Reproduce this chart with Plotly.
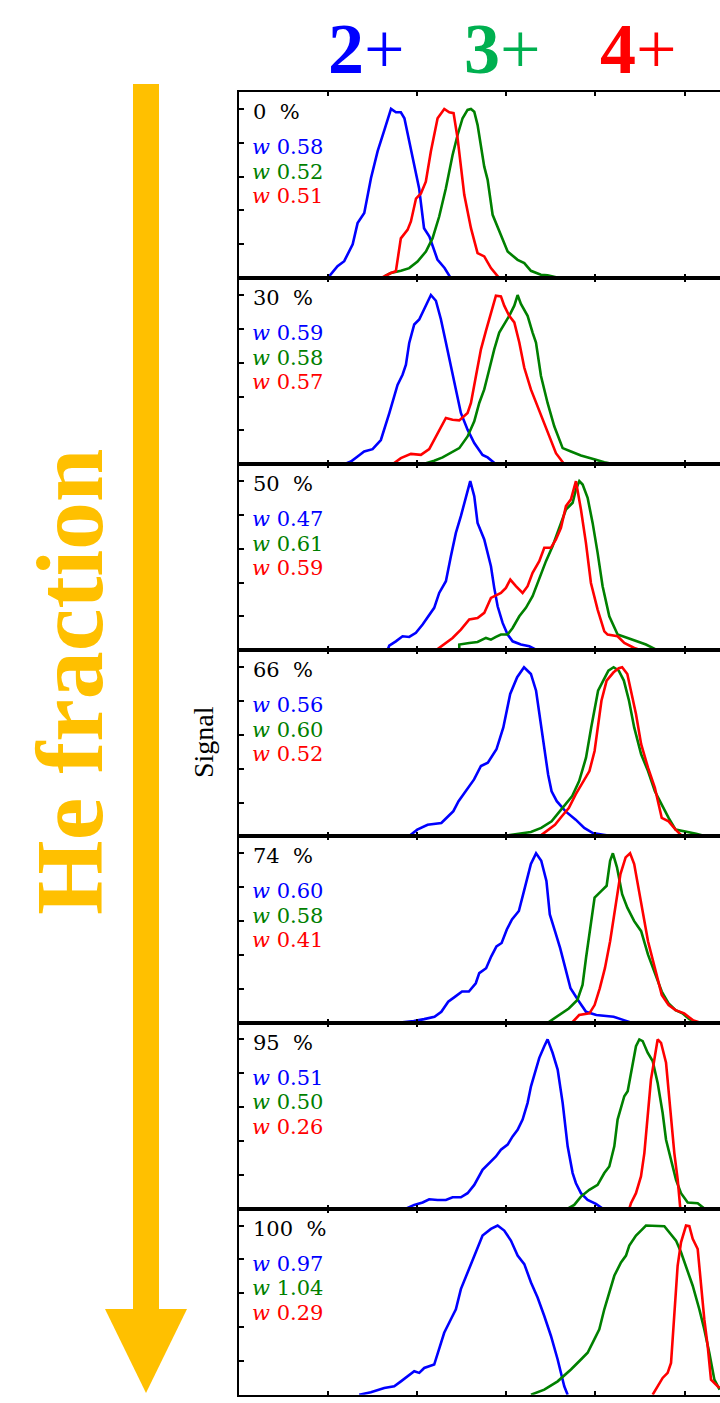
import plotly.graph_objects as go

W, H = 720, 1403

# ---------------- data ----------------
fractions = ["0 %", "30 %", "50 %", "66 %", "74 %", "95 %", "100 %"]
w_2p = [0.58, 0.59, 0.47, 0.56, 0.60, 0.51, 0.97]
w_3p = [0.52, 0.58, 0.61, 0.60, 0.58, 0.50, 1.04]
w_4p = [0.51, 0.57, 0.59, 0.52, 0.41, 0.26, 0.29]
x_ticks = [1, 2, 3, 4, 5]
y_ticks = [0.2, 0.4, 0.6, 0.8, 1.0]

# 0 %
he0_2p_x = [1.0, 1.11, 1.185, 1.28, 1.335, 1.41, 1.485, 1.56, 1.635, 1.71, 1.765, 1.82, 1.86, 1.915, 1.97, 2.025, 2.08, 2.14, 2.23, 2.31, 2.38]
he0_2p_y = [0, 0.07, 0.10, 0.20, 0.325, 0.385, 0.59, 0.75, 0.875, 1.0, 0.98, 0.98, 0.945, 0.81, 0.67, 0.53, 0.295, 0.245, 0.11, 0.06, 0.0]
he0_3p_x = [1.634, 1.708, 1.821, 1.914, 2.007, 2.101, 2.176, 2.25, 2.325, 2.4, 2.456, 2.512, 2.568, 2.606, 2.643, 2.68, 2.755, 2.793, 2.849, 2.942, 3.017, 3.129, 3.204, 3.278, 3.39, 3.465, 3.596]
he0_3p_y = [0.01, 0.03, 0.043, 0.059, 0.098, 0.157, 0.236, 0.364, 0.531, 0.728, 0.846, 0.945, 0.994, 1.0, 0.984, 0.906, 0.659, 0.581, 0.374, 0.256, 0.157, 0.108, 0.089, 0.043, 0.02, 0.016, 0.0]
he0_4p_x = [1.596, 1.708, 1.764, 1.82, 1.895, 1.933, 1.99, 2.045, 2.1, 2.157, 2.232, 2.307, 2.363, 2.411, 2.456, 2.531, 2.606, 2.68, 2.755, 2.83, 2.923]
he0_4p_y = [0, 0.03, 0.04, 0.235, 0.285, 0.335, 0.47, 0.5, 0.57, 0.75, 0.945, 1.0, 0.98, 0.975, 0.827, 0.492, 0.295, 0.148, 0.128, 0.059, 0.0]

# 30 %
he30_2p_x = [1.185, 1.26, 1.335, 1.409, 1.503, 1.596, 1.69, 1.746, 1.783, 1.839, 1.877, 1.914, 1.97, 2.026, 2.082, 2.157, 2.213, 2.269, 2.325, 2.381, 2.437, 2.493, 2.568, 2.643, 2.736, 2.793, 2.886]
he30_2p_y = [0, 0.016, 0.046, 0.075, 0.089, 0.143, 0.301, 0.4, 0.469, 0.529, 0.588, 0.717, 0.826, 0.855, 0.915, 1.0, 0.966, 0.857, 0.719, 0.590, 0.442, 0.303, 0.204, 0.125, 0.055, 0.04, 0.0]
he30_3p_x = [2.101, 2.194, 2.288, 2.381, 2.475, 2.568, 2.643, 2.699, 2.755, 2.811, 2.867, 2.923, 2.979, 3.035, 3.092, 3.129, 3.166, 3.241, 3.297, 3.335, 3.391, 3.465, 3.54, 3.634, 3.727, 3.839, 4.007, 4.101, 4.213]
he30_3p_y = [0.006, 0.02, 0.04, 0.065, 0.095, 0.164, 0.253, 0.362, 0.442, 0.560, 0.679, 0.778, 0.828, 0.877, 0.937, 1.0, 0.947, 0.877, 0.778, 0.719, 0.521, 0.362, 0.224, 0.095, 0.075, 0.051, 0.026, 0.012, 0.0]
he30_4p_x = [1.727, 1.82, 1.933, 2.045, 2.138, 2.194, 2.269, 2.325, 2.4, 2.475, 2.568, 2.606, 2.662, 2.718, 2.774, 2.83, 2.886, 2.942, 2.979, 3.035, 3.092, 3.148, 3.204, 3.278, 3.353, 3.428, 3.503, 3.559, 3.652]
he30_4p_y = [0, 0.036, 0.061, 0.055, 0.089, 0.145, 0.214, 0.273, 0.263, 0.259, 0.303, 0.362, 0.521, 0.679, 0.788, 0.897, 0.996, 0.992, 0.937, 0.877, 0.838, 0.719, 0.570, 0.442, 0.343, 0.244, 0.145, 0.065, 0.0]

# 50 %
he50_2p_x = [1.671, 1.69, 1.764, 1.839, 1.914, 1.989, 2.064, 2.138, 2.194, 2.25, 2.325, 2.381, 2.437, 2.493, 2.55, 2.598, 2.643, 2.68, 2.755, 2.83, 2.867, 2.905, 2.961, 3.017, 3.073, 3.166, 3.26, 3.335]
he50_2p_y = [0, 0.028, 0.053, 0.083, 0.079, 0.103, 0.152, 0.211, 0.251, 0.339, 0.408, 0.556, 0.694, 0.793, 0.911, 1.0, 0.911, 0.753, 0.655, 0.497, 0.369, 0.260, 0.162, 0.093, 0.053, 0.034, 0.024, 0.004]
he50_3p_x = [2.475, 2.475, 2.587, 2.68, 2.774, 2.83, 2.886, 2.942, 3.017, 3.073, 3.148, 3.222, 3.297, 3.372, 3.447, 3.521, 3.596, 3.671, 3.746, 3.783, 3.821, 3.858, 3.914, 3.97, 4.026, 4.082, 4.157, 4.25, 4.363, 4.475, 4.568, 4.699]
he50_3p_y = [0.004, 0.034, 0.043, 0.049, 0.073, 0.063, 0.079, 0.093, 0.093, 0.132, 0.201, 0.251, 0.320, 0.428, 0.527, 0.615, 0.724, 0.832, 0.872, 0.951, 1.0, 0.980, 0.901, 0.753, 0.576, 0.379, 0.201, 0.093, 0.073, 0.053, 0.034, 0.0]
he50_4p_x = [2.213, 2.307, 2.4, 2.493, 2.587, 2.68, 2.755, 2.83, 2.942, 2.998, 3.047, 3.11, 3.185, 3.241, 3.297, 3.372, 3.428, 3.503, 3.559, 3.615, 3.671, 3.727, 3.783, 3.839, 3.895, 3.951, 4.026, 4.101, 4.138, 4.25, 4.325, 4.437, 4.512]
he50_4p_y = [0, 0.034, 0.073, 0.122, 0.182, 0.191, 0.221, 0.310, 0.339, 0.369, 0.418, 0.379, 0.339, 0.379, 0.458, 0.527, 0.606, 0.606, 0.655, 0.724, 0.852, 0.892, 1.0, 0.832, 0.635, 0.398, 0.241, 0.112, 0.093, 0.083, 0.043, 0.014, 0.0]

# 66 %
he66_2p_x = [1.907, 2.004, 2.12, 2.274, 2.351, 2.409, 2.467, 2.544, 2.641, 2.718, 2.795, 2.892, 2.969, 3.046, 3.124, 3.201, 3.278, 3.336, 3.375, 3.413, 3.471, 3.51, 3.568, 3.664, 3.78, 3.876, 3.973, 4.089, 4.205]
he66_2p_y = [0, 0.04, 0.069, 0.079, 0.119, 0.149, 0.208, 0.267, 0.337, 0.416, 0.436, 0.515, 0.644, 0.842, 0.941, 1.0, 0.960, 0.861, 0.723, 0.564, 0.366, 0.267, 0.208, 0.149, 0.099, 0.05, 0.02, 0.01, 0.0]
he66_3p_x = [2.988, 3.143, 3.278, 3.394, 3.51, 3.587, 3.664, 3.741, 3.819, 3.896, 3.954, 3.992, 4.031, 4.089, 4.147, 4.205, 4.263, 4.32, 4.378, 4.436, 4.514, 4.591, 4.668, 4.745, 4.822, 4.9, 5.015, 5.131, 5.247]
he66_3p_y = [0.004, 0.014, 0.026, 0.05, 0.089, 0.139, 0.188, 0.238, 0.327, 0.465, 0.644, 0.763, 0.861, 0.921, 0.980, 1.0, 0.980, 0.921, 0.802, 0.644, 0.485, 0.386, 0.267, 0.188, 0.109, 0.040, 0.030, 0.016, 0.0]
he66_4p_x = [3.375, 3.471, 3.548, 3.625, 3.703, 3.78, 3.857, 3.934, 3.992, 4.031, 4.069, 4.127, 4.205, 4.263, 4.301, 4.359, 4.398, 4.456, 4.514, 4.591, 4.668, 4.745, 4.822, 4.9, 4.977]
he66_4p_y = [0, 0.04, 0.069, 0.119, 0.168, 0.248, 0.317, 0.386, 0.505, 0.644, 0.802, 0.921, 0.970, 0.994, 1.0, 0.960, 0.861, 0.723, 0.545, 0.406, 0.287, 0.109, 0.089, 0.040, 0.0]

# 74 %
he74_2p_x = [1.811, 1.965, 2.081, 2.197, 2.274, 2.351, 2.429, 2.506, 2.583, 2.66, 2.699, 2.776, 2.834, 2.892, 2.95, 3.008, 3.066, 3.143, 3.201, 3.239, 3.278, 3.336, 3.394, 3.452, 3.49, 3.548, 3.606, 3.664, 3.722, 3.819, 3.896, 4.012, 4.205, 4.320, 4.398]
he74_2p_y = [0, 0.008, 0.02, 0.034, 0.063, 0.123, 0.153, 0.183, 0.183, 0.232, 0.292, 0.321, 0.391, 0.450, 0.470, 0.550, 0.609, 0.659, 0.778, 0.857, 0.937, 1.0, 0.956, 0.837, 0.639, 0.540, 0.440, 0.321, 0.202, 0.123, 0.063, 0.044, 0.034, 0.014, 0.0]
he74_3p_x = [3.471, 3.587, 3.703, 3.799, 3.857, 3.896, 3.954, 3.992, 4.069, 4.127, 4.166, 4.197, 4.243, 4.301, 4.359, 4.436, 4.514, 4.591, 4.668, 4.745, 4.822, 4.9, 4.977, 5.054, 5.131]
he74_3p_y = [0, 0.044, 0.083, 0.133, 0.222, 0.381, 0.599, 0.738, 0.778, 0.808, 0.956, 1.0, 0.917, 0.758, 0.679, 0.599, 0.540, 0.401, 0.292, 0.183, 0.113, 0.073, 0.054, 0.020, 0.0]
he74_4p_x = [3.741, 3.819, 3.934, 3.992, 4.05, 4.108, 4.166, 4.224, 4.282, 4.340, 4.390, 4.436, 4.475, 4.533, 4.591, 4.668, 4.745, 4.822, 4.9, 4.996, 5.093, 5.17]
he74_4p_y = [0, 0.044, 0.054, 0.103, 0.202, 0.321, 0.480, 0.679, 0.877, 0.976, 1.0, 0.937, 0.817, 0.639, 0.480, 0.321, 0.163, 0.103, 0.073, 0.054, 0.014, 0.0]

# 95 %
he95_2p_x = [1.877, 1.970, 2.064, 2.138, 2.232, 2.325, 2.4, 2.493, 2.568, 2.643, 2.736, 2.811, 2.886, 2.942, 3.017, 3.073, 3.129, 3.185, 3.241, 3.279, 3.316, 3.372, 3.428, 3.465, 3.521, 3.578, 3.634, 3.690, 3.746, 3.783, 3.839, 3.914, 4.007, 4.082]
he95_2p_y = [0, 0.022, 0.036, 0.055, 0.051, 0.051, 0.067, 0.067, 0.091, 0.140, 0.229, 0.269, 0.308, 0.348, 0.378, 0.427, 0.466, 0.526, 0.625, 0.723, 0.792, 0.891, 0.960, 1.0, 0.921, 0.822, 0.625, 0.368, 0.210, 0.150, 0.091, 0.051, 0.028, 0.0]
he95_3p_x = [3.690, 3.764, 3.839, 3.933, 4.026, 4.101, 4.157, 4.213, 4.250, 4.325, 4.363, 4.419, 4.456, 4.494, 4.531, 4.587, 4.643, 4.699, 4.755, 4.793, 4.849, 4.905, 4.961, 5.036, 5.148, 5.222]
he95_3p_y = [0, 0.022, 0.071, 0.111, 0.140, 0.210, 0.249, 0.368, 0.526, 0.664, 0.694, 0.842, 0.960, 1.0, 0.990, 0.921, 0.872, 0.743, 0.565, 0.407, 0.289, 0.170, 0.091, 0.036, 0.032, 0.0]
he95_4p_x = [4.381, 4.400, 4.456, 4.512, 4.550, 4.587, 4.624, 4.662, 4.699, 4.737, 4.793, 4.841, 4.886, 4.924, 4.953]
he95_4p_y = [0, 0.032, 0.091, 0.190, 0.328, 0.565, 0.763, 0.881, 1.0, 0.980, 0.862, 0.585, 0.328, 0.170, 0.0]

# 100 %
he100_2p_x = [1.353, 1.484, 1.634, 1.746, 1.821, 1.895, 1.970, 2.026, 2.082, 2.194, 2.250, 2.306, 2.381, 2.437, 2.493, 2.568, 2.606, 2.680, 2.736, 2.830, 2.905, 2.979, 3.054, 3.129, 3.204, 3.279, 3.353, 3.428, 3.503, 3.578, 3.652, 3.690]
he100_2p_y = [0, 0.014, 0.040, 0.050, 0.079, 0.109, 0.139, 0.129, 0.158, 0.178, 0.267, 0.366, 0.446, 0.505, 0.624, 0.723, 0.762, 0.861, 0.941, 0.980, 1.0, 0.970, 0.911, 0.822, 0.772, 0.663, 0.574, 0.465, 0.347, 0.208, 0.050, 0.0]
he100_3p_x = [3.279, 3.428, 3.578, 3.727, 3.839, 3.914, 3.989, 4.045, 4.101, 4.157, 4.213, 4.288, 4.344, 4.381, 4.456, 4.512, 4.568, 4.774, 4.830, 4.905, 4.961, 5.017, 5.092, 5.166, 5.222, 5.278, 5.335, 5.394]
he100_3p_y = [0, 0.030, 0.079, 0.149, 0.208, 0.248, 0.327, 0.386, 0.505, 0.604, 0.703, 0.782, 0.822, 0.881, 0.941, 0.970, 1.0, 0.996, 0.960, 0.911, 0.842, 0.762, 0.644, 0.505, 0.386, 0.248, 0.089, 0.030]
he100_4p_x = [4.643, 4.699, 4.755, 4.811, 4.849, 4.867, 4.893, 4.923, 4.961, 5.017, 5.054, 5.092, 5.148, 5.185, 5.222, 5.260, 5.297, 5.372, 5.394]
he100_4p_y = [0, 0.050, 0.099, 0.129, 0.188, 0.327, 0.545, 0.762, 0.901, 1.0, 0.996, 0.921, 0.861, 0.644, 0.446, 0.287, 0.089, 0.050, 0.040]

panels = [
    [(he0_2p_x, he0_2p_y), (he0_3p_x, he0_3p_y), (he0_4p_x, he0_4p_y)],
    [(he30_2p_x, he30_2p_y), (he30_3p_x, he30_3p_y), (he30_4p_x, he30_4p_y)],
    [(he50_2p_x, he50_2p_y), (he50_3p_x, he50_3p_y), (he50_4p_x, he50_4p_y)],
    [(he66_2p_x, he66_2p_y), (he66_3p_x, he66_3p_y), (he66_4p_x, he66_4p_y)],
    [(he74_2p_x, he74_2p_y), (he74_3p_x, he74_3p_y), (he74_4p_x, he74_4p_y)],
    [(he95_2p_x, he95_2p_y), (he95_3p_x, he95_3p_y), (he95_4p_x, he95_4p_y)],
    [(he100_2p_x, he100_2p_y), (he100_3p_x, he100_3p_y), (he100_4p_x, he100_4p_y)],
]
w_values = [w_2p, w_3p, w_4p]

# ---------------- styling ----------------
series_colors = ["#0000FF", "#008000", "#FF0000"]
GOLD = "#FFC000"
SERIF = "Liberation Serif, Times New Roman, serif"
LABEL_FONT = "DejaVu Serif, serif"

plot_left_px = 238.5
panel_top_px = 92.0
panel_h_px = 186.1
x_max = (W - plot_left_px) / 89.2


def px_x(p):
    return p / W


def px_y(p):
    return 1 - p / H


fig = go.Figure()
layout = dict(
    width=W, height=H,
    margin=dict(l=0, r=0, t=0, b=0),
    paper_bgcolor="white", plot_bgcolor="white",
    showlegend=False,
)

annotations = []
for i, curves in enumerate(panels):
    k = i + 1
    sfx = "" if k == 1 else str(k)
    top = panel_top_px + panel_h_px * i
    bot = top + panel_h_px
    layout["xaxis" + sfx] = dict(
        domain=[px_x(plot_left_px), 1.0], range=[0, x_max], anchor="y" + sfx,
        showline=True, linecolor="black", linewidth=2, mirror="ticks",
        ticks="inside", tickvals=x_ticks, ticklen=4, tickwidth=1.5, tickcolor="black",
        showticklabels=False, showgrid=False, zeroline=False,
    )
    layout["yaxis" + sfx] = dict(
        domain=[px_y(bot), px_y(top)], range=[0, 1.1], anchor="x" + sfx,
        showline=True, linecolor="black", linewidth=2,
        ticks="inside", tickvals=y_ticks, ticklen=5, tickwidth=1.5, tickcolor="black",
        showticklabels=False, showgrid=False, zeroline=False,
    )
    for j, (xs, ys) in enumerate(curves):
        fig.add_trace(go.Scatter(
            x=xs, y=ys, mode="lines", xaxis="x" + sfx, yaxis="y" + sfx,
            line=dict(color=series_colors[j], width=2.6), hoverinfo="skip",
        ))
    # panel labels
    annotations.append(dict(
        x=px_x(251), y=px_y(top + 20), xref="paper", yref="paper",
        xanchor="left", yanchor="middle", showarrow=False,
        text=fractions[i].replace(" ", "&nbsp;&nbsp;"),
        font=dict(family=LABEL_FONT, size=21, color="black"),
    ))
    for j in range(3):
        annotations.append(dict(
            x=px_x(250), y=px_y(top + 55 + 24.5 * j), xref="paper", yref="paper",
            xanchor="left", yanchor="middle", showarrow=False,
            text="<i>w</i> %.2f" % w_values[j][i],
            font=dict(family=LABEL_FONT, size=21, color=series_colors[j]),
        ))

# charge-state headers
for txt, col, cx in [("2", "#0000FF", 366), ("3", "#00B050", 502), ("4", "#FF0000", 638)]:
    annotations.append(dict(
        x=px_x(cx), y=px_y(49), xref="paper", yref="paper",
        xanchor="center", yanchor="middle", showarrow=False,
        text="<b>%s</b>+" % txt, font=dict(family=SERIF, size=72, color=col),
    ))

# y-axis title
annotations.append(dict(
    x=px_x(203), y=px_y(742), xref="paper", yref="paper",
    xanchor="center", yanchor="middle", showarrow=False, textangle=-90,
    text="Signal", font=dict(family=SERIF, size=28, color="black"),
))

# He fraction label
annotations.append(dict(
    x=px_x(69), y=px_y(682), xref="paper", yref="paper",
    xanchor="center", yanchor="middle", showarrow=False, textangle=-90,
    text="<b>He fraction</b>", font=dict(family=SERIF, size=96, color=GOLD),
))

layout["annotations"] = annotations

# big arrow
shapes = [
    dict(type="rect", xref="paper", yref="paper",
         x0=px_x(133), x1=px_x(159), y0=px_y(1310), y1=px_y(84),
         fillcolor=GOLD, line=dict(width=0), layer="below"),
    dict(type="path", xref="paper", yref="paper",
         path="M %f,%f L %f,%f L %f,%f Z" % (px_x(105), px_y(1309), px_x(187), px_y(1309), px_x(146), px_y(1393)),
         fillcolor=GOLD, line=dict(width=0), layer="below"),
]
layout["shapes"] = shapes

fig.update_layout(**layout)
fig.write_html(
    "out.html",
    config={"displayModeBar": False},
    post_script="document.body.style.margin='0px';document.body.style.padding='0px';",
)
